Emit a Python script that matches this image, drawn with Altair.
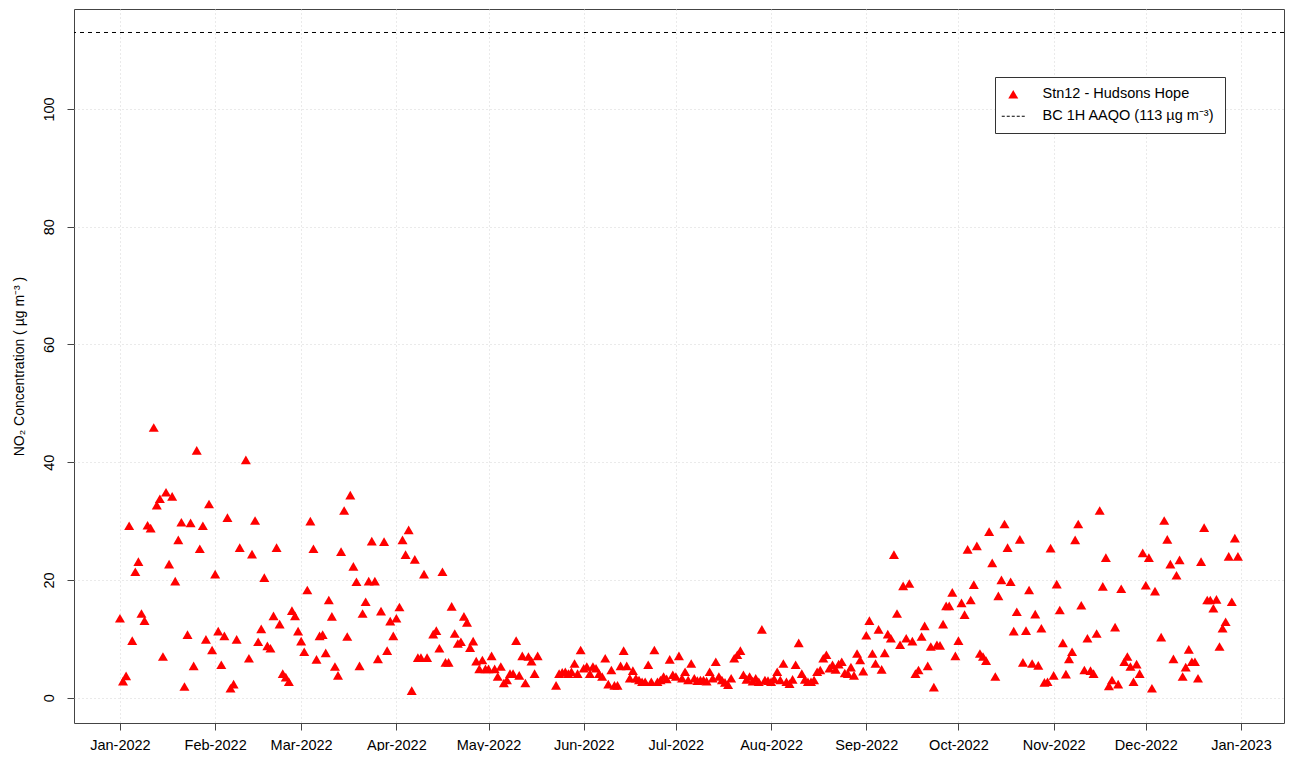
import altair as alt
import pandas as pd

# Daily NO2 (ug/m3) at Stn12 - Hudsons Hope, 2022 (None = no data)
jan = [13.5, 2.8, 3.7, 29.2, 9.7, 21.4, 23.1, 14.3, 13.1, 29.3, 28.8, 45.9, 32.7, 33.8, 7.0, 34.9,
       22.7, 34.2, 19.8, 26.8, 29.8, 1.9, 10.7, 29.7, 5.4, 42.0, 25.3, 29.2, 9.9, 32.9, 8.1]
feb = [21.0, 11.3, 5.6, 10.5, 30.6, 1.6, 2.3, 9.9, 25.5, None, 40.4, 6.7, 24.4, 30.1, 9.5, 11.7,
       20.4, 8.8, 8.4, 13.9, 25.5, 12.5, 4.1, 3.5, 2.7, 14.8, 13.9, 11.3]
mar = [9.6, 7.8, 18.3, 30.0, 25.3, 6.5, 10.5, 10.7, 7.6, 16.6, 13.8, 5.3, 3.8, 24.8, 31.8, 10.4,
       34.4, 22.3, 19.7, 5.4, 14.3, 16.3, 19.8, 26.6, 19.8, 6.6, 14.7, 26.5, 8.0, 13.0, 10.5]
apr = [13.5, 15.4, 26.8, 24.3, 28.5, 1.2, 23.5, 6.8, 6.8, 21.0, 6.8, None, 10.8, 11.4, 8.4, 21.4,
       6.0, 6.0, 15.5, 10.9, 9.2, 9.5, 13.8, 12.8, 8.5, 9.6, 6.2, 4.9, 6.4, 4.9]
may = [4.9, 7.1, 4.9, 3.6, 5.3, 2.5, 3.0, 4.1, 4.1, 9.7, 3.8, 7.1, 2.5, 7.0, 6.2, 4.1,
       7.1, None, None, None, None, None, 2.1, 4.1, 4.3, 4.4, 4.1, 4.4, 5.8, 4.1, 8.1]
jun = [5.0, 5.3, 4.1, 5.3, 5.0, 4.1, 3.6, 6.7, 2.3, 4.7, 2.1, 2.1, 5.4, 8.0, 5.4, 3.3,
       4.6, 3.3, 3.0, 2.7, 2.7, 5.6, 2.7, 8.1, 2.7, 3.0, 3.6, 3.2, 6.5, 3.9]
jul = [3.6, 7.1, 3.3, 4.4, 3.0, 5.8, 3.3, 2.9, 3.0, 3.0, 2.8, 4.4, 3.3, 6.1, 3.6, 3.0,
       2.6, 2.2, 3.3, 6.7, 7.3, 8.0, 3.9, 3.1, 3.6, 2.8, 3.3, 2.7, 11.6, 3.0, 2.9]
aug = [2.7, 3.2, 4.4, 3.0, 5.8, 2.7, 2.4, 3.1, 5.6, 9.3, 4.1, 3.1, 2.7, 2.7, 3.0, 4.4,
       4.7, 6.7, 7.3, 5.0, 5.6, 4.8, 5.7, 6.1, 4.2, 4.1, 5.2, 3.8, 7.5, 6.4, 4.5]
sep = [10.6, 13.1, 7.5, 5.8, 11.6, 4.8, 7.6, 10.8, 10.1, 24.3, 14.3, 9.0, 19.0, 10.1, 19.4, 9.6,
       4.1, 4.7, 10.4, 12.2, 5.4, 8.7, 1.8, 9.0, 8.9, 12.5, 15.6, 15.6, 17.9, 7.1]
oct = [9.7, 16.1, 14.1, 25.2, 16.6, 19.2, 25.8, 7.5, 7.0, 6.3, 28.2, 22.9, 3.6, 17.3, 20.0, 29.5,
       25.5, 19.7, 11.3, 14.6, 26.9, 6.0, 11.4, 18.3, 5.8, 14.2, 5.5, 11.8, 2.6, 2.7, 25.4]
nov = [3.8, 19.3, 14.9, 9.3, 4.0, 6.6, 7.8, 26.8, 29.5, 15.7, 4.7, 10.1, 4.6, 4.1, 10.9, 31.8,
       18.9, 23.8, 2.0, 3.0, 12.0, 2.3, 18.5, 6.1, 7.0, 5.3, 2.7, 5.7, 4.1, 24.6]
dec = [19.1, 23.8, 1.6, 18.1, None, 10.3, 30.1, 26.9, 22.7, 6.6, 20.8, 23.4, 3.6, 5.2, 8.2, 6.1,
       6.1, 3.3, 23.1, 28.9, 16.6, 16.6, 15.2, 16.7, 8.7, 11.8, 12.9, 24.0, 16.3, 27.1, 24.0]

month_starts = ["2022-01-01", "2022-02-01", "2022-03-01", "2022-04-01", "2022-05-01", "2022-06-01",
                "2022-07-01", "2022-08-01", "2022-09-01", "2022-10-01", "2022-11-01", "2022-12-01"]
monthly = [jan, feb, mar, apr, may, jun, jul, aug, sep, oct, nov, dec]

threshold = [113]
y_ticks = [0, 20, 40, 60, 80, 100]
SERIES = "Stn12 - Hudsons Hope"
AAQO = "BC 1H AAQO (113 \u00b5g m\u207b\u00b3)"
Y_TITLE = "NO\u2082 Concentration ( \u00b5g m\u207b\u00b3 )"

rows = []
for start, vals in zip(month_starts, monthly):
    for d, v in zip(pd.date_range(start, periods=len(vals), freq="D"), vals):
        if v is not None:
            rows.append({"date": d.strftime("%Y-%m-%d"), "no2": v, "series": SERIES})
df = pd.DataFrame(rows)
thr_df = pd.DataFrame({"no2": threshold})

FONT = "Liberation Sans"
dash_path = "M-2.3,0L-1.7,0M-1.3,0L-0.7,0M-0.3,0L0.3,0M0.7,0L1.3,0M1.7,0L2.3,0"
dom = [SERIES, AAQO]

legend = alt.Legend(
    title=None, orient="none", legendX=921, legendY=68, padding=10,
    strokeColor="#333333", fillColor="white", cornerRadius=0,
    labelFont=FONT, labelFontSize=14.5, labelColor="black", labelOffset=22, labelLimit=400,
    rowPadding=7, symbolStrokeWidth=1, symbolSize=100, symbolOffset=1,
)

x_ticks = [alt.DateTime(year=2022, month=m, date=1, utc=True) for m in range(1, 13)] + \
          [alt.DateTime(year=2023, month=1, date=1, utc=True)]

x_enc = alt.X(
    "date:T",
    scale=alt.Scale(type="utc", domain=[alt.DateTime(year=2021, month=12, date=17, hours=1, utc=True),
                                        alt.DateTime(year=2023, month=1, date=15, utc=True)]),
    axis=alt.Axis(values=x_ticks, format="%b-%Y", title=None, grid=True, gridColor="#d4d4d4",
                  gridDash=[1, 3], gridWidth=1, domain=False, tickSize=7, tickColor="#444444",
                  labelFont=FONT, labelFontSize=14.5, labelColor="black", labelPadding=8,
                  labelFlush=False, labelOverlap=False),
)
y_enc = alt.Y(
    "no2:Q",
    scale=alt.Scale(domain=[-4.30, 116.99], nice=False, zero=False),
    axis=alt.Axis(values=y_ticks, title=Y_TITLE, titleFont=FONT, titleFontSize=14,
                  titleFontWeight="normal", titleColor="black", titlePadding=15,
                  grid=True, gridColor="#d4d4d4", gridDash=[1, 3], gridWidth=1, domain=False,
                  tickSize=7, tickColor="#444444", labelFont=FONT, labelFontSize=14.5,
                  labelColor="black", labelAngle=270, labelAlign="center", labelBaseline="bottom",
                  labelPadding=11),
)

points = alt.Chart(df).mark_point(filled=True, size=100, opacity=1).encode(
    x=x_enc,
    y=y_enc,
    shape=alt.Shape("series:N", scale=alt.Scale(domain=dom, range=["triangle-up", dash_path]), legend=legend),
    fill=alt.Fill("series:N", scale=alt.Scale(domain=dom, range=["#ff0000", "black"]), legend=legend),
    stroke=alt.Stroke("series:N", scale=alt.Scale(domain=dom, range=["transparent", "black"]), legend=legend),
)

rule = alt.Chart(thr_df).mark_rule(color="black", strokeDash=[4, 4], strokeWidth=1).encode(
    y=alt.Y("no2:Q")
)

chart = alt.layer(rule, points).properties(
    width=1210, height=714,
    autosize=alt.AutoSizeParams(type="none"),
    padding={"left": 66, "top": 1, "right": 1, "bottom": 28},
    background="white",
).configure_view(stroke="#444444", strokeWidth=1)

chart.save("out.html", embed_options={"renderer": "svg", "actions": False})
